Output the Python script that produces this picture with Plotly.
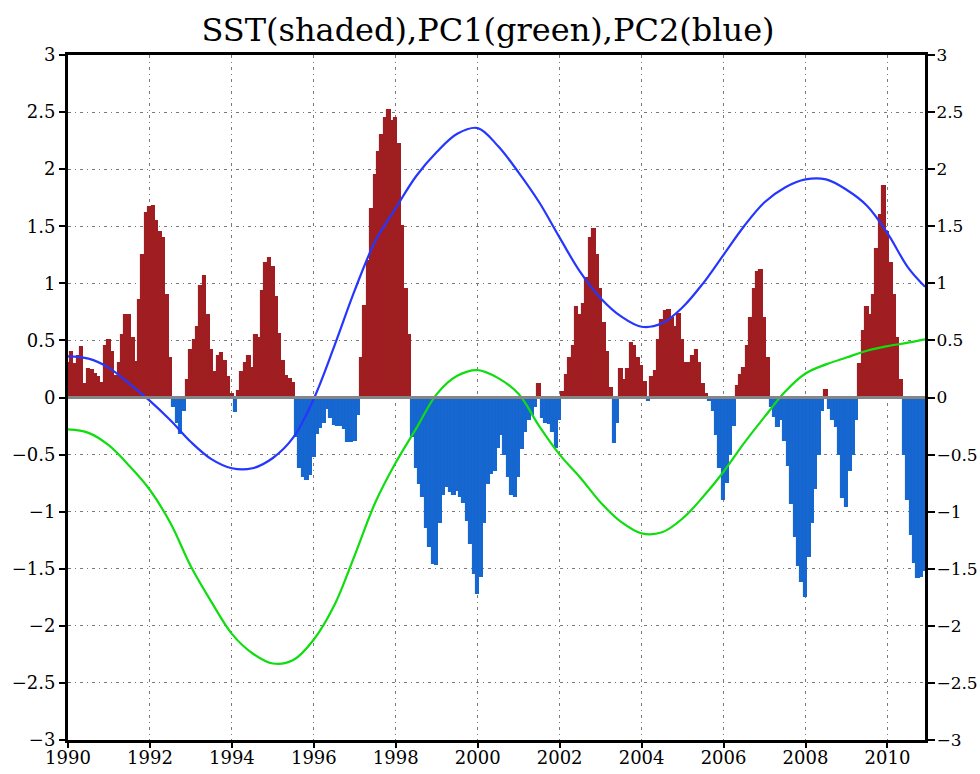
import numpy as np
import plotly.graph_objects as go

# Monthly SST index, Jan 1990 - Dec 2010 (one row per year)
sst_1990_1996 = [
    0.30, 0.40, 0.29, 0.36, 0.44, 0.12, 0.25, 0.24, 0.21, 0.18, 0.13, 0.45,
    0.50, 0.40, 0.19, 0.30, 0.55, 0.72, 0.72, 0.52, 0.31, 0.85, 1.25, 1.62,
    1.67, 1.68, 1.55, 1.45, 1.40, 0.90, 0.35, -0.08, -0.22, -0.32, -0.12, 0.15,
    0.42, 0.50, 0.62, 0.98, 1.06, 0.72, 0.42, 0.22, 0.36, 0.39, 0.32, 0.18,
    0.03, -0.13, 0.06, 0.22, 0.30, 0.36, 0.26, 0.55, 0.52, 0.93, 1.18, 1.22,
    1.14, 0.88, 0.56, 0.32, 0.19, 0.16, 0.13, -0.35, -0.62, -0.70, -0.72, -0.68,
    -0.52, -0.32, -0.27, -0.22, -0.10, -0.18, -0.24, -0.25, -0.25, -0.28, -0.39, -0.39,
]
sst_1997_2003 = [
    -0.38, -0.15, 0.35, 0.80, 1.20, 1.65, 1.95, 2.15, 2.30, 2.45, 2.52, 2.42,
    2.45, 2.22, 1.50, 0.95, 0.55, -0.35, -0.62, -0.76, -0.87, -1.14, -1.31, -1.46,
    -1.47, -1.10, -0.85, -0.78, -0.83, -0.85, -0.82, -0.87, -0.92, -1.08, -1.28, -1.55,
    -1.72, -1.57, -1.10, -0.76, -0.67, -0.64, -0.44, -0.33, -0.50, -0.70, -0.85, -0.87,
    -0.70, -0.45, -0.30, -0.20, -0.15, -0.08, 0.12, -0.18, -0.22, -0.23, -0.30, -0.44,
    -0.20, 0.05, 0.20, 0.35, 0.45, 0.79, 0.72, 0.82, 1.05, 1.40, 1.48, 1.25,
    0.95, 0.65, 0.40, 0.08, -0.40, -0.22, 0.25, 0.15, 0.25, 0.48, 0.45, 0.35,
]
sst_2004_2010 = [
    0.28, 0.14, -0.03, 0.18, 0.23, 0.50, 0.68, 0.76, 0.77, 0.70, 0.62, 0.73,
    0.50, 0.30, 0.30, 0.36, 0.42, 0.30, 0.12, 0.03, -0.03, -0.12, -0.33, -0.62,
    -0.90, -0.75, -0.50, -0.25, 0.10, 0.20, 0.26, 0.45, 0.70, 0.95, 1.10, 1.12,
    0.70, 0.35, -0.08, -0.17, -0.26, -0.20, -0.38, -0.60, -0.93, -1.22, -1.48, -1.62,
    -1.75, -1.40, -1.10, -0.80, -0.50, -0.12, 0.07, -0.10, -0.20, -0.26, -0.50, -0.88,
    -0.96, -0.64, -0.50, -0.20, 0.29, 0.58, 0.79, 0.72, 0.90, 1.30, 1.60, 1.85,
    1.45, 1.18, 0.90, 0.52, 0.15, -0.50, -0.90, -1.20, -1.45, -1.58, -1.57, -1.52,
]
sst = np.array(sst_1990_1996 + sst_1997_2003 + sst_2004_2010)
start_year = 1990
sst_time = start_year + np.arange(len(sst)) / 12.0

# Principal component time series, sampled every 6 months from Jan 1990
pc_month = list(range(0, 247, 6)) + [251]
pc1_value = [-0.28, -0.31, -0.42, -0.60, -0.81, -1.10, -1.48, -1.79, -2.07, -2.24,
             -2.33, -2.30, -2.12, -1.82, -1.38, -0.92, -0.57, -0.27, 0.03, 0.19,
             0.24, 0.17, 0.03, -0.25, -0.50, -0.70, -0.92, -1.09, -1.19, -1.18,
             -1.06, -0.87, -0.65, -0.40, -0.17, 0.05, 0.21, 0.29, 0.35, 0.41,
             0.45, 0.48, 0.51]
pc2_value = [0.36, 0.34, 0.26, 0.12, -0.03, -0.20, -0.39, -0.54, -0.62, -0.62,
             -0.53, -0.35, -0.01, 0.45, 0.94, 1.37, 1.66, 1.94, 2.15, 2.31,
             2.36, 2.20, 1.97, 1.71, 1.40, 1.10, 0.87, 0.71, 0.62, 0.65,
             0.79, 1.00, 1.25, 1.50, 1.71, 1.84, 1.91, 1.91, 1.82, 1.68,
             1.44, 1.14, 0.97]
pc_time = start_year + np.array(pc_month) / 12.0

year_ticks = list(range(1990, 2011, 2))
value_ticks = [-3, -2.5, -2, -1.5, -1, -0.5, 0, 0.5, 1, 1.5, 2, 2.5, 3]
value_labels = [("%g" % v).replace("-", "\u2212") for v in value_ticks]

WARM = "#A01E21"
COLD = "#1767D1"
bar_colors = [WARM if v >= 0 else COLD for v in sst]

FONT = "DejaVu Serif"
W, H = 980, 774

fig = go.Figure()
fig.add_trace(go.Bar(
    x=sst_time, y=sst, width=1 / 12.0,
    marker=dict(color=bar_colors, line=dict(width=1.1, color=bar_colors)),
    showlegend=False, hoverinfo="skip",
))
fig.add_trace(go.Scatter(
    x=pc_time, y=pc1_value, mode="lines",
    line=dict(color="#10DD10", width=2.2, shape="spline", smoothing=1.0),
    showlegend=False,
))
fig.add_trace(go.Scatter(
    x=pc_time, y=pc2_value, mode="lines", yaxis="y2",
    line=dict(color="#2536FF", width=2.2, shape="spline", smoothing=1.0),
    showlegend=False,
))

x_end = start_year + (len(sst) - 1) / 12.0
grid_style = dict(showgrid=True, gridcolor="#7a7a7a", gridwidth=1, griddash="3px,4px,1px,4px")
tick_font = dict(family=FONT, size=18, color="black")

fig.update_layout(
    width=W, height=H,
    margin=dict(l=68, r=W - 925, t=55, b=34, autoexpand=False),
    paper_bgcolor="white", plot_bgcolor="white",
    bargap=0,
    title=dict(
        text="SST(shaded),PC1(green),PC2(blue)",
        font=dict(family=FONT, size=32, color="black"),
        x=488 / W, xanchor="center", xref="container",
        y=1 - 30 / H, yanchor="middle", yref="container",
    ),
    xaxis=dict(
        range=[start_year, x_end], tickvals=year_ticks,
        ticktext=[str(y) for y in year_ticks],
        ticks="outside", ticklen=5, tickwidth=2, tickcolor="black",
        ticklabelstandoff=-5,
        showline=True, linecolor="black", linewidth=2.5, mirror=True,
        tickfont=tick_font, zeroline=False, automargin=False, **grid_style,
    ),
    yaxis=dict(
        range=[-3, 3], tickvals=value_ticks, ticktext=value_labels,
        ticks="outside", ticklen=6, tickwidth=2, tickcolor="black",
        showline=True, linecolor="black", linewidth=3,
        tickfont=tick_font, zeroline=False, automargin=False, **grid_style,
    ),
    yaxis2=dict(
        range=[-3, 3], tickvals=value_ticks, ticktext=value_labels,
        overlaying="y", side="right",
        ticks="outside", ticklen=7, tickwidth=2, tickcolor="black",
        ticklabelstandoff=-2,
        showline=True, linecolor="black", linewidth=3,
        tickfont=dict(family=FONT, size=17, color="black"),
        showgrid=False, zeroline=False, automargin=False,
    ),
    shapes=[dict(
        type="line", xref="paper", x0=0, x1=1, yref="y", y0=0, y1=0,
        line=dict(color="#858585", width=3), layer="above",
    )],
)

fig.write_html("out.html")
